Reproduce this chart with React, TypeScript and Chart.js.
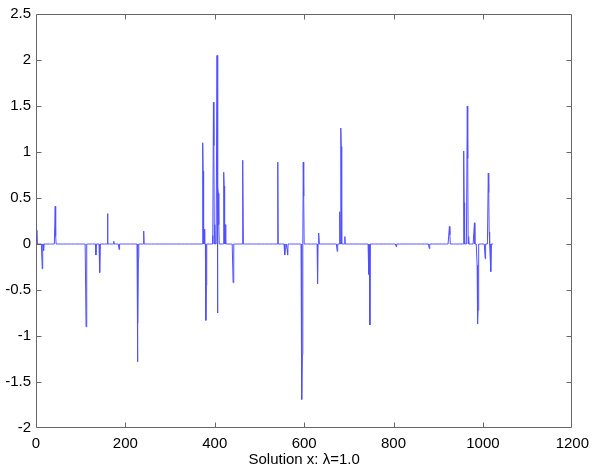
import React, { useEffect, useRef } from "react";
import { Chart, registerables } from "chart.js";

Chart.register(...registerables);

// Sparse solution vector (length 1024): index -> value for the nonzero entries
const signalLength = 1024;
const spikeIndex = [
  2, 14, 17, 43, 44, 112, 113, 134, 143, 160, 174, 186, 227, 228, 229, 241,
  373, 374, 376, 380, 381, 395, 397, 398, 400, 405, 406, 407, 408, 409, 420, 421, 423,
  441, 463, 541, 557, 558, 562, 563, 594, 595, 596, 598, 599, 630, 633, 674, 680, 682, 683, 691,
  745, 747, 806, 880, 925, 926, 957, 958, 965, 966, 968, 981, 987, 988, 989, 1005,
  1012, 1013, 1014, 1016, 1018,
];
const spikeValue = [
  0.15, -0.27, -0.07, 0.41, 0.09, -0.9, -0.58, -0.12, -0.31, 0.33, 0.03, -0.06, -1.28, -0.86, -0.15, 0.14,
  1.1, 0.79, 0.16, -0.83, -0.45, 0.09, 1.54, 1.07, 0.21, 2.05, -0.75, 0.62, 0.55, 0.21, 0.78, 0.63, 0.21,
  -0.42, 0.91, 0.89, -0.12, -0.05, -0.06, -0.12, -0.25, -1.69, -1.2, 0.89, 0.52, -0.43, 0.12, -0.08, 0.35, 1.26, 1.06, 0.08,
  -0.33, -0.88, -0.03, -0.05, 0.19, 0.1, 1.01, 0.45, 1.5, 0.93, 0.08, 0.23, -0.23, -0.87, -0.72, -0.16,
  0.77, 0.56, 0.13, -0.12, -0.3,
];

const xTicks = [0, 200, 400, 600, 800, 1000, 1200];
const yTicks = [-2, -1.5, -1, -0.5, 0, 0.5, 1, 1.5, 2, 2.5];
const xTitle = "Solution x: \u03bb=1.0";

const FONT = "'Liberation Sans', Arial, Helvetica, sans-serif";

const boxPlugin = {
  id: "matlabBox",
  afterDraw(chart: any) {
    const { ctx, chartArea } = chart;
    const { left, right, top, bottom } = chartArea;
    const xs = chart.scales.x;
    const ys = chart.scales.y;
    ctx.save();
    ctx.strokeStyle = "#666";
    ctx.lineWidth = 1;
    ctx.beginPath();
    const L = Math.round(left) + 0.5;
    const R = Math.round(right) - 0.5;
    const T = Math.round(top) + 0.5;
    const B = Math.round(bottom) - 0.5;
    ctx.rect(L, T, R - L, B - T);
    const tl = 5;
    xTicks.slice(1, -1).forEach((v) => {
      const px = Math.round(xs.getPixelForValue(v)) + 0.5;
      ctx.moveTo(px, B);
      ctx.lineTo(px, B - tl);
      ctx.moveTo(px, T);
      ctx.lineTo(px, T + tl);
    });
    yTicks.slice(1, -1).forEach((v) => {
      const py = Math.round(ys.getPixelForValue(v)) + 0.5;
      ctx.moveTo(L, py);
      ctx.lineTo(L + tl, py);
      ctx.moveTo(R, py);
      ctx.lineTo(R - tl, py);
    });
    ctx.stroke();
    ctx.restore();
  },
};

export default function App() {
  const ref = useRef<HTMLCanvasElement | null>(null);

  useEffect(() => {
    if (!ref.current) return;
    const values: number[] = new Array(signalLength).fill(0);
    spikeIndex.forEach((idx, i) => {
      values[idx - 1] = spikeValue[i];
    });
    const points = values.map((v, i) => ({ x: i + 1, y: v }));

    const chart = new Chart(ref.current, {
      type: "line",
      data: {
        datasets: [
          {
            data: points,
            borderColor: "rgb(80,80,255)",
            borderWidth: 1,
            borderJoinStyle: "bevel",
            pointRadius: 0,
            tension: 0,
            fill: false,
          },
        ],
      },
      options: {
        animation: false,
        responsive: false,
        devicePixelRatio: 1,
        layout: { padding: { top: 9, right: 19, left: 0, bottom: 0 } },
        plugins: {
          legend: { display: false },
          tooltip: { enabled: false },
        },
        scales: {
          x: {
            type: "linear",
            min: 0,
            max: 1200,
            afterFit: (s: any) => {
              s.height = 44;
            },
            afterBuildTicks: (s: any) => {
              s.ticks = xTicks.map((v) => ({ value: v }));
            },
            grid: { display: false, drawTicks: false },
            border: { display: false },
            ticks: {
              padding: 7,
              color: "#000",
              font: { family: FONT, size: 15 },
              maxRotation: 0,
              callback: (v: any) => String(v),
            },
            title: {
              display: true,
              text: xTitle,
              color: "#000",
              font: { family: FONT, size: 15 },
              padding: { top: 0, bottom: 3 },
            },
          },
          y: {
            type: "linear",
            min: -2,
            max: 2.5,
            afterFit: (s: any) => {
              s.width = 36;
            },
            afterBuildTicks: (s: any) => {
              s.ticks = yTicks.map((v) => ({ value: v }));
            },
            grid: { display: false, drawTicks: false },
            border: { display: false },
            ticks: {
              padding: 5,
              color: "#000",
              font: { family: FONT, size: 15 },
              callback: (v: any) => String(v),
            },
          },
        },
      },
      plugins: [boxPlugin],
    });
    return () => chart.destroy();
  }, []);

  return (
    <div style={{ position: "absolute", left: 0, top: 0, width: 596, height: 472, background: "#fff" }}>
      <canvas ref={ref} width={596} height={472} style={{ display: "block" }} />
    </div>
  );
}
